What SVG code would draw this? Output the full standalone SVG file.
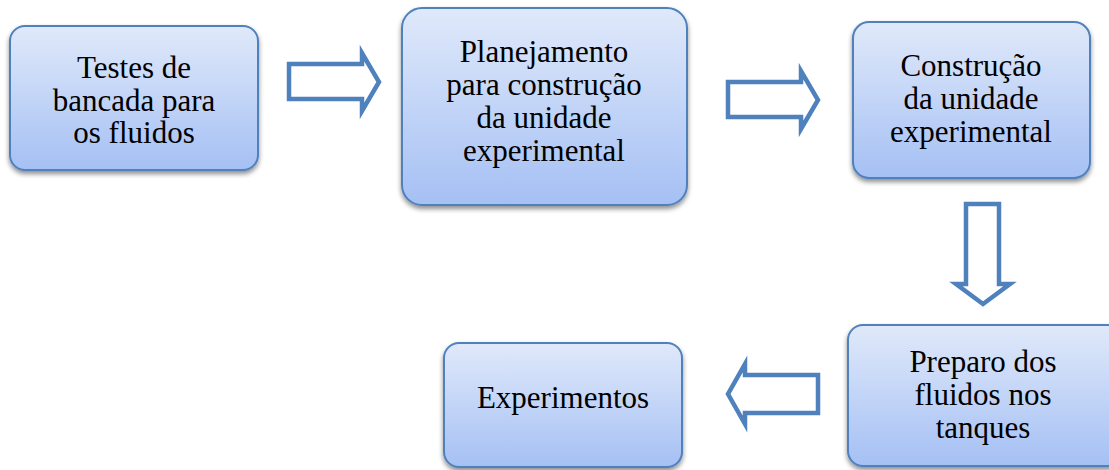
<svg xmlns="http://www.w3.org/2000/svg" width="1109" height="470" viewBox="0 0 1109 470">
<style>
.box{fill:url(#g);stroke:#4F81BD;stroke-width:2;filter:url(#sh)}
.t{font-family:"Liberation Serif","Times New Roman",serif;font-size:31px;fill:#000;text-anchor:middle}
.ar{fill:#fff;stroke:#4F81BD;stroke-width:4.5;stroke-linejoin:miter}
</style>
<defs>
<linearGradient id="g" x1="0" y1="0" x2="0" y2="1">
<stop offset="0" stop-color="#E0E9FA"/>
<stop offset="1" stop-color="#A5C0F4"/>
</linearGradient>
<filter id="sh" x="-10%" y="-10%" width="120%" height="130%">
<feGaussianBlur in="SourceAlpha" stdDeviation="2.5"/>
<feOffset dx="0" dy="3" result="b"/>
<feComponentTransfer><feFuncA type="linear" slope="0.45"/></feComponentTransfer>
<feMerge><feMergeNode/><feMergeNode in="SourceGraphic"/></feMerge>
</filter>
</defs>
<g id="connectors">
<polygon class="ar" points="289,64 362,64 362,53 379,82 362,111 362,99 289,99"/>
<polygon class="ar" points="728,82 801,82 801,71 818,100 801,129 801,117 728,117"/>
<polygon class="ar" points="966,204 999,204 999,284 1010,284 983,304 956,284 966,284"/>
<polygon class="ar" points="818,375 745,375 745,364 728,394 745,424 745,413 818,413"/>
</g>
<g id="n1">
<rect class="box" x="10" y="26" width="248" height="144" rx="15"/>
<text class="t" x="134" y="78">Testes de</text>
<text class="t" x="134" y="111">bancada para</text>
<text class="t" x="134" y="143">os fluidos</text>
</g>
<g id="n2">
<rect class="box" x="402" y="8" width="285" height="197" rx="20"/>
<text class="t" x="544" y="62">Planejamento</text>
<text class="t" x="544" y="95">para construção</text>
<text class="t" x="544" y="128">da unidade</text>
<text class="t" x="544" y="161">experimental</text>
</g>
<g id="n3">
<rect class="box" x="853" y="22" width="237" height="156" rx="16"/>
<text class="t" x="971" y="76">Construção</text>
<text class="t" x="971" y="109">da unidade</text>
<text class="t" x="971" y="142">experimental</text>
</g>
<g id="n4">
<rect class="box" x="848" y="325" width="275" height="141" rx="15"/>
<text class="t" x="983" y="372">Preparo dos</text>
<text class="t" x="983" y="405">fluidos nos</text>
<text class="t" x="983" y="438">tanques</text>
</g>
<g id="n5">
<rect class="box" x="444" y="343" width="238" height="124" rx="15"/>
<text class="t" x="563" y="408">Experimentos</text>
</g>
</svg>
